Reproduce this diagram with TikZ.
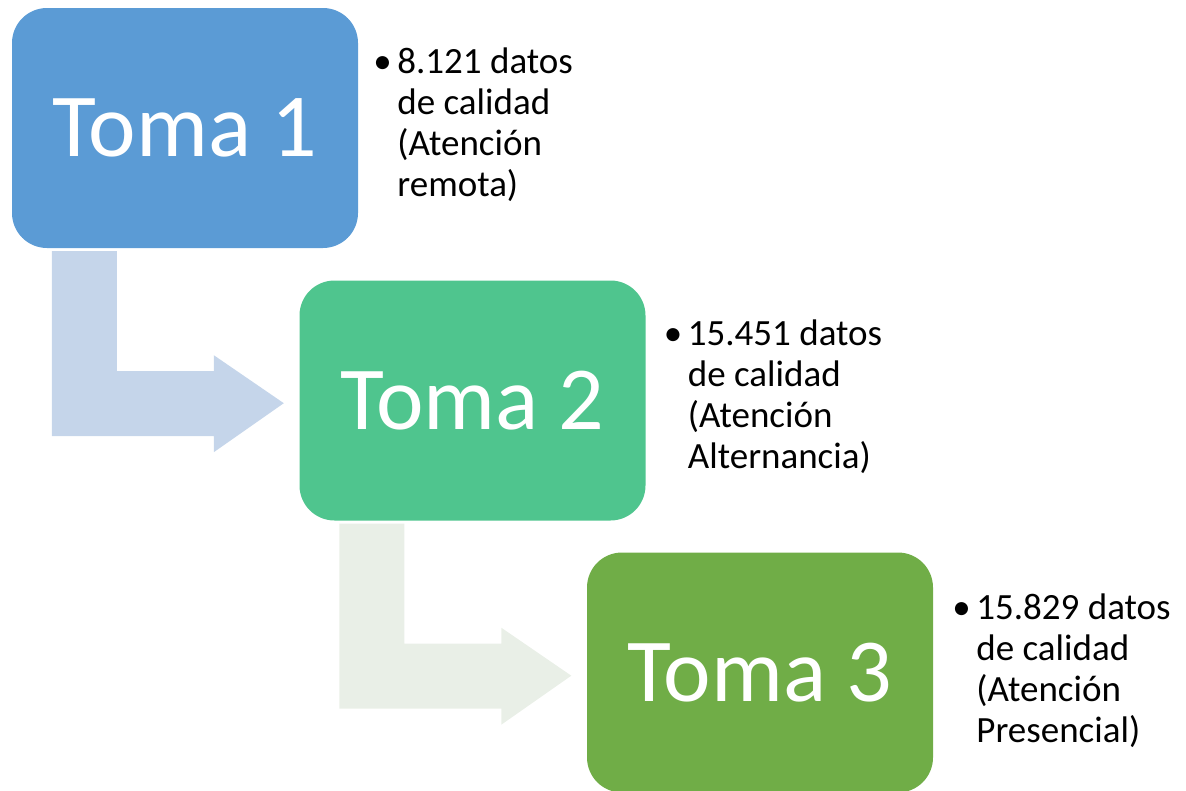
\documentclass[tikz,border=0pt]{standalone}
\usepackage{fontspec}
\setmainfont{Carlito}
\definecolor{tomablue}{HTML}{5B9BD5}
\definecolor{tomateal}{HTML}{4FC58E}
\definecolor{tomagreen}{HTML}{70AD47}
\definecolor{flowblue}{HTML}{C5D5EA}
\definecolor{flowgreen}{HTML}{E9EFE7}
\tikzset{
  tomabox/.style={rectangle, rounded corners=35pt, minimum width=346pt,
    minimum height=240pt, inner sep=0pt, text=white,
    font=\fontsize{90}{100}\selectfont},
  infotext/.style={anchor=base west, inner sep=0pt, align=left,
    font=\fontsize{37}{41}\selectfont}
}
\newcommand{\infolist}[4]{%
  \begin{tabular}[t]{@{}p{24pt}@{}l@{}}
    \textbullet & #1\\ & #2\\ & #3\\ & #4
  \end{tabular}}
\begin{document}
\begin{tikzpicture}[x=1pt,y=-1pt]
    \useasboundingbox (0,0) rectangle (1186,790);
    %% boxes
    \node[tomabox, fill=tomablue] (toma1) at (185,128) {Toma 1};
    \node[tomabox, fill=tomateal] (toma2) at (472.5,400.5) {Toma 2};
    \node[tomabox, fill=tomagreen] (toma3) at (760,672.5) {Toma 3};
    %% bent arrows
    \fill[flowblue] (toma1.south west) ++(40,3) -- ++(65,0) -- ++(0,120) -- ++(97,0)
        -- ++(0,-16) -- ++(70,48) -- ++(-70,49) -- ++(0,-16) -- ++(-162,0) -- cycle;
    \fill[flowgreen] (toma2.south west) ++(40,3) -- ++(65,0) -- ++(0,120) -- ++(97,0)
        -- ++(0,-16) -- ++(70,48) -- ++(-70,49) -- ++(0,-16) -- ++(-162,0) -- cycle;
    %% data notes
    \node[infotext] (info1) at (toma1.north east) [xshift=15pt, yshift=-66pt]
        {\infolist{8.121 datos}{de calidad}{(Atención}{remota)}};
    \node[infotext] (info2) at (toma2.north east) [xshift=18pt, yshift=-65pt]
        {\infolist{15.451 datos}{de calidad}{(Atención}{Alternancia)}};
    \node[infotext] (info3) at (toma3.north east) [xshift=19pt, yshift=-67pt]
        {\infolist{15.829 datos}{de calidad}{(Atención}{Presencial)}};
\end{tikzpicture}
\end{document}
